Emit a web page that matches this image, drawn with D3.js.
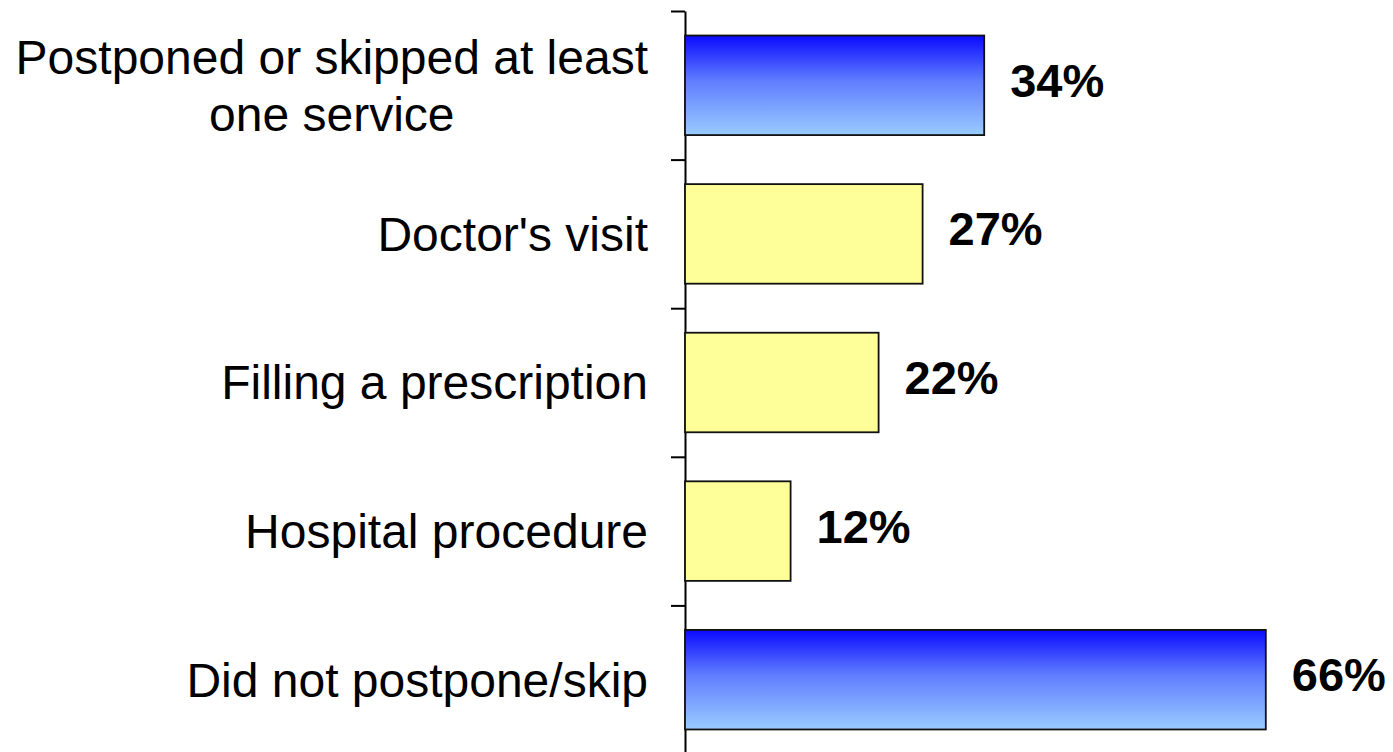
<!DOCTYPE html>
<html>
<head>
<meta charset="utf-8">
<script src="https://cdn.jsdelivr.net/npm/d3@7"></script>
<style>
  body { margin: 0; background: #fff; }
  text { font-family: "Liberation Sans", Arial, sans-serif; }
</style>
</head>
<body>
<div id="chart"></div>
<script>
var categories = [
  ["Postponed or skipped at least", "one service"],
  ["Doctor's visit"],
  ["Filling a prescription"],
  ["Hospital procedure"],
  ["Did not postpone/skip"]
];
var values = [34, 27, 22, 12, 66];
var kinds = ["total", "sub", "sub", "sub", "total"];

var width = 1393, height = 752;
var axisX = 685;

var svg = d3.select("#chart").append("svg")
  .attr("width", width)
  .attr("height", height);

var defs = svg.append("defs");
var grad = defs.append("linearGradient")
  .attr("id", "blueGrad")
  .attr("x1", 0).attr("y1", 0).attr("x2", 0).attr("y2", 1);
grad.append("stop").attr("offset", "0%").attr("stop-color", "#0a0aff");
grad.append("stop").attr("offset", "45%").attr("stop-color", "#5f7cff");
grad.append("stop").attr("offset", "100%").attr("stop-color", "#99ccff");

var idx = d3.range(categories.length);

var x = d3.scaleLinear().domain([0, 100]).range([axisX, axisX + 880]);
var y = d3.scaleBand().domain(idx).range([11, 754])
  .paddingInner(0.33).paddingOuter(0.165);

// axis with ticks on the band boundaries
var yTicks = d3.scaleLinear().domain([0, categories.length]).range([11, 754]);
var yAxis = d3.axisLeft(yTicks)
  .tickValues(d3.range(categories.length + 1))
  .tickSizeInner(14).tickSizeOuter(0)
  .tickFormat("");

svg.append("g")
  .attr("transform", "translate(" + axisX + ",0)")
  .call(yAxis)
  .call(function(g) {
    g.selectAll("line, path").attr("stroke", "#000").attr("stroke-width", 2);
  });

// bars
svg.selectAll(".bar")
  .data(idx)
  .enter()
  .append("rect")
  .attr("class", "bar")
  .attr("x", x(0))
  .attr("y", function(i) { return y(i); })
  .attr("width", function(i) { return x(values[i]) - x(0); })
  .attr("height", y.bandwidth())
  .attr("fill", function(i) { return kinds[i] == "total" ? "url(#blueGrad)" : "#ffff99"; })
  .attr("stroke", "#111")
  .attr("stroke-width", 1.8);

// value labels
svg.selectAll(".val")
  .data(idx)
  .enter()
  .append("text")
  .attr("class", "val")
  .attr("x", function(i) { return x(values[i]) + 26; })
  .attr("y", function(i) { return y(i) + y.bandwidth() / 2 - 5; })
  .attr("dy", "0.35em")
  .style("font-size", "47px")
  .style("font-weight", "bold")
  .text(function(i) { return values[i] + "%"; });

// category labels, right aligned block, lines centred inside it
var labelRight = 648, lineH = 57;
idx.forEach(function(i) {
  var lines = categories[i];
  var g = svg.append("g");
  var cy = y(i) + y.bandwidth() / 2;
  var t = g.selectAll("text")
    .data(lines)
    .enter()
    .append("text")
    .attr("y", function(d, k) { return cy + (k - (lines.length - 1) / 2) * lineH; })
    .attr("dy", "0.35em")
    .style("font-size", "48px")
    .attr("text-anchor", "middle")
    .text(function(d) { return d; });
  var maxW = d3.max(t.nodes(), function(n) { return n.getComputedTextLength(); });
  t.attr("x", labelRight - maxW / 2);
});
</script>
</body>
</html>
